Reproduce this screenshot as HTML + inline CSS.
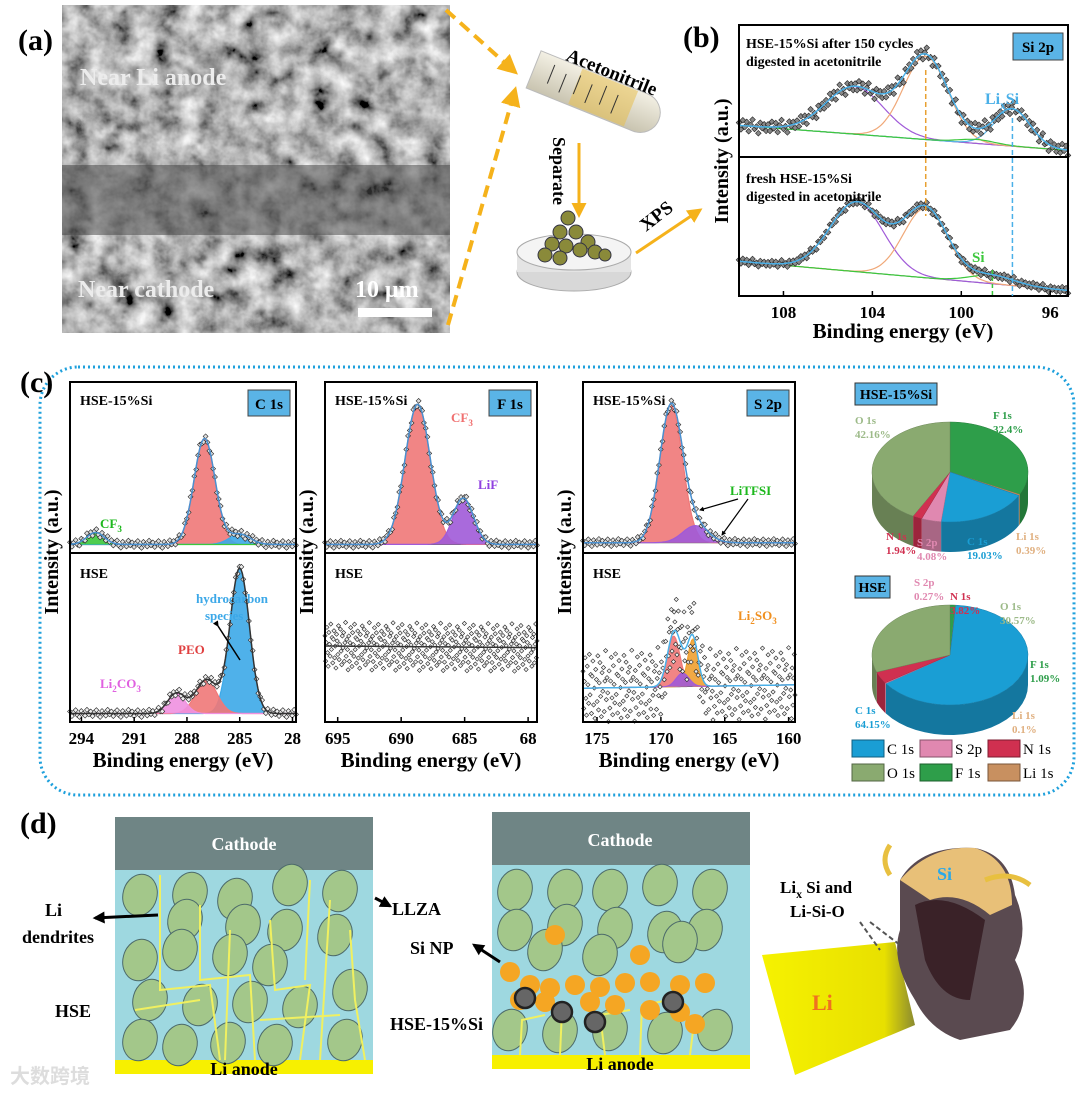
<!DOCTYPE html>
<html><head><meta charset="utf-8">
<style>
html,body{margin:0;padding:0;background:#fff;}
svg{display:block;font-family:"Liberation Serif",serif;}
.b{font-weight:bold;}
</style></head>
<body>
<svg id="fig" width="1080" height="1093" viewBox="0 0 1080 1093" xmlns="http://www.w3.org/2000/svg">
<defs>
<filter id="sem" x="0" y="0" width="100%" height="100%">
<feTurbulence type="fractalNoise" baseFrequency="0.045" numOctaves="4" seed="3"/>
<feColorMatrix type="matrix" values="0.33 0.33 0.33 0 0  0.33 0.33 0.33 0 0  0.33 0.33 0.33 0 0  0 0 0 0 1"/>
<feComponentTransfer><feFuncR type="linear" slope="2.2" intercept="-0.65"/><feFuncG type="linear" slope="2.2" intercept="-0.65"/><feFuncB type="linear" slope="2.2" intercept="-0.65"/></feComponentTransfer>
</filter>
<linearGradient id="tube" x1="0" y1="0" x2="0" y2="1"><stop offset="0" stop-color="#f3f0e4"/><stop offset="1" stop-color="#c9c4b0"/></linearGradient>
<linearGradient id="liy" x1="0" y1="0" x2="1" y2="0"><stop offset="0" stop-color="#f6f200"/><stop offset="0.8" stop-color="#e8e000"/><stop offset="1" stop-color="#8a8a30"/></linearGradient>
<marker id="ah" viewBox="0 0 10 10" refX="8" refY="5" markerWidth="5" markerHeight="5" orient="auto"><path d="M0,0 L10,5 L0,10 z" fill="#f5b21b"/></marker>
<marker id="ak" viewBox="0 0 10 10" refX="8" refY="5" markerWidth="4" markerHeight="4" orient="auto"><path d="M0,0 L10,5 L0,10 z" fill="#000"/></marker>
</defs>

<!-- panel a -->
<text x="18" y="50" font-size="30" class="b">(a)</text>
<g>
<rect x="62" y="5" width="388" height="328" fill="#5a5a5a"/>
<rect x="62" y="5" width="388" height="328" filter="url(#sem)"/>
<rect x="62" y="165" width="388" height="70" fill="#4a4a4a" opacity="0.55"/>
<text x="80" y="85" font-size="24" class="b" fill="#ececec">Near Li anode</text>
<text x="78" y="297" font-size="24" class="b" fill="#ececec">Near cathode</text>
<text x="355" y="297" font-size="24" class="b" fill="#fff">10 μm</text>
<rect x="358" y="308" width="74" height="9" fill="#fff"/>
</g>
<path d="M446,10 L515,72" stroke="#f5b21b" stroke-width="4" stroke-dasharray="12,7" fill="none" marker-end="url(#ah)"/>
<path d="M448,325 L515,90" stroke="#f5b21b" stroke-width="4" stroke-dasharray="12,7" fill="none" marker-end="url(#ah)"/>
<g transform="rotate(22 590 90)">
<path d="M530,72 L645,72 A20,20 0 0 1 645,112 L530,112 Z" fill="url(#tube)" stroke="#bbb"/>
<rect x="575" y="73" width="60" height="38" fill="#e8c050" opacity="0.55"/>
<g stroke="#333" stroke-width="1"><line x1="548" y1="80" x2="548" y2="100"/><line x1="562" y1="84" x2="562" y2="104"/><line x1="576" y1="80" x2="576" y2="100"/><line x1="590" y1="84" x2="590" y2="104"/><line x1="604" y1="80" x2="604" y2="100"/><line x1="618" y1="84" x2="618" y2="104"/></g>
</g>
<text x="565" y="60" font-size="19" class="b" transform="rotate(22 565 60)">Acetonitrile</text>
<line x1="579" y1="143" x2="579" y2="215" stroke="#f5b21b" stroke-width="3" marker-end="url(#ah)"/>
<text x="553" y="137" font-size="18" class="b" transform="rotate(90 553 137)">Separate</text>
<g>
<ellipse cx="574" cy="272" rx="57" ry="19" fill="#d8d8d8" stroke="#aaa"/>
<rect x="517" y="252" width="114" height="20" fill="#e4e4e4"/>
<ellipse cx="574" cy="252" rx="57" ry="18" fill="#f4f4f4" stroke="#aaa"/>
<g fill="#8a8a3a" stroke="#334" stroke-width="1">
<circle cx="568" cy="218" r="7"/><circle cx="560" cy="232" r="7"/><circle cx="576" cy="232" r="7"/><circle cx="588" cy="242" r="7"/><circle cx="552" cy="244" r="7"/><circle cx="566" cy="246" r="7"/><circle cx="580" cy="250" r="7"/><circle cx="595" cy="252" r="7"/><circle cx="545" cy="255" r="7"/><circle cx="560" cy="258" r="7"/><circle cx="605" cy="255" r="6"/>
</g></g>
<line x1="636" y1="253" x2="700" y2="210" stroke="#f5b21b" stroke-width="3" marker-end="url(#ah)"/>
<text x="646" y="232" font-size="19" class="b" transform="rotate(-38 646 232)">XPS</text>

<!-- panel b -->
<text x="683" y="47" font-size="30" class="b">(b)</text>
<g id="pb"></g>
<text x="903" y="338" font-size="21" class="b" text-anchor="middle">Binding energy (eV)</text>
<text x="728" y="161" font-size="20" class="b" text-anchor="middle" transform="rotate(-90 728 161)">Intensity (a.u.)</text>

<!-- panel c -->
<rect x="40" y="367" width="1034" height="428" rx="38" fill="none" stroke="#1ea0dc" stroke-width="3" stroke-dasharray="2,3"/>
<text x="20" y="392" font-size="30" class="b">(c)</text>
<g id="pc"></g>
<g id="pies"></g>

<!-- panel d -->
<text x="20" y="833" font-size="30" class="b">(d)</text>
<g id="pd"></g>
</svg>

<script>
// ===== Panel b data (Si 2p) =====
const bTicks = [108, 104, 100, 96];
const bTopPeaks = [[104.8, 0.36, 1.3, '#a05ad8'], [101.6, 0.63, 1.0, '#f0a878'], [97.7, 0.28, 0.8, '#5ab4e6'], [99.3, 0.03, 0.8, '#3cc83c']];
const bTopBase = [0.24, 0.05];
const bBotPeaks = [[104.7, 0.5, 1.2, '#a05ad8'], [101.6, 0.5, 1.0, '#f0a878'], [98.6, 0.06, 1.0, '#3cc83c']];
const bBotBase = [0.25, 0.04];
const noiseB = [0.02, -0.03, 0.04, -0.01, 0.03, -0.04, 0.01, 0.05, -0.02, 0.0, -0.05, 0.03, -0.01, 0.02, -0.03];
// ===== Panel c data =====
const cTicks = [294, 291, 288, 285, 282];
const cTickLabels = ['294', '291', '288', '285', '28'];
const cTopPeaks = [[287.0, 0.62, 0.6, '#f07878'], [285.0, 0.06, 0.6, '#3ca8e8'], [293.2, 0.07, 0.5, '#3cc83c']];
const cBotPeaks = [[285.0, 0.86, 0.55, '#3ca8e8'], [286.9, 0.2, 0.6, '#f07878'], [288.6, 0.12, 0.5, '#f090e0']];
const fTicks = [695, 690, 685, 680];
const fTickLabels = ['695', '690', '685', '68'];
const fTopPeaks = [[688.7, 0.82, 1.0, '#f07878'], [685.1, 0.27, 0.8, '#a05ad8']];
const fBotPeaks = [];
const fBotBase = [0.45, 0.44];
const sTicks = [175, 170, 165, 160];
const sTickLabels = ['175', '170', '165', '160'];
const sTopPeaks = [[169.2, 0.8, 0.9, '#f07878'], [167.3, 0.1, 1.0, '#a05ad8']];
const sBotPeaks = [[169.0, 0.3, 0.5, '#f07878'], [167.5, 0.28, 0.4, '#f0a030'], [168.3, 0.08, 0.5, '#a05ad8']];
const sBotBase = [0.2, 0.22];
const noiseC = [0.012, -0.015, 0.008, 0.02, -0.01, -0.02, 0.015, 0.0, -0.012, 0.022, -0.005];
const noiseF = [0.06, -0.09, 0.02, 0.11, -0.04, -0.12, 0.08, 0.01, -0.06, 0.13, -0.02, 0.05, -0.1, 0.04, 0.09, -0.07, 0.0, -0.13, 0.07, 0.03, -0.05, 0.12, -0.08, 0.01, 0.1, -0.03, -0.11, 0.06, -0.01, 0.08, -0.09, 0.02, 0.14, -0.06, 0.04, -0.02, -0.14];
const noiseS = [0.1, -0.12, 0.04, 0.18, -0.06, -0.16, 0.13, 0.02, -0.09, 0.2, -0.04, 0.08, -0.15, 0.07, 0.16, -0.1, 0.0, -0.18, 0.11, 0.05, -0.08, 0.19, -0.13, 0.03, 0.15, -0.05, -0.17, 0.09, -0.02, 0.12, -0.14, 0.04, 0.22, -0.07, 0.06, -0.03, -0.2];
// ===== Pie data =====
const pieLabels = ['F 1s', 'Li 1s', 'C 1s', 'S 2p', 'N 1s', 'O 1s'];
const pieSi = [32.4, 0.39, 19.03, 4.08, 1.94, 42.16];
const pieHSE = [1.09, 0.1, 64.15, 0.27, 3.82, 30.57];
const pieColors = ['#2e9e4a', '#c89060', '#1a9ed4', '#e088b0', '#d03050', '#8aaa70'];

const NS = 'http://www.w3.org/2000/svg';
function mk(parent, tag, attrs, txt) {
  const e = document.createElementNS(NS, tag);
  for (const k in attrs) e.setAttribute(k, attrs[k]);
  if (txt !== undefined) e.textContent = txt;
  parent.appendChild(e);
  return e;
}
// text with subscript parts: parts = [[str, isSub], ...]
function subText(parent, x, y, size, fill, parts) {
  const t = mk(parent, 'text', { x: x, y: y, 'font-size': size, 'font-weight': 'bold', fill: fill });
  parts.forEach(p => {
    const s = mk(t, 'tspan', p[1] ? { 'font-size': size * 0.7, dy: size * 0.3 } : { dy: p[2] || 0 }, p[0]);
  });
  return t;
}
function gauss(x, p) { return p[1] * Math.exp(-Math.pow(x - p[0], 2) / (2 * p[2] * p[2])); }

function panel(g, box, xmin, xmax, peaks, base, noise, nPts, dotColor, fitColor, ds) {
  ds = ds || 4;
  const sx = v => box.x + (xmin - v) / (xmin - xmax) * box.w;
  const sy = v => box.y + box.h - v * box.h;
  const bl = v => base[0] + (base[1] - base[0]) * (xmin - v) / (xmin - xmax);
  const N = 160;
  let d = '';
  for (let i = 0; i <= N; i++) { const v = xmin + (xmax - xmin) * i / N; d += (i ? 'L' : 'M') + sx(v).toFixed(1) + ',' + sy(bl(v)).toFixed(1); }
  const bp = mk(g, 'path', { d: d, stroke: '#666', fill: 'none', 'stroke-width': 1 });
  
  
  peaks.forEach(p => {
    let dd = '';
    for (let i = 0; i <= N; i++) { const v = xmin + (xmax - xmin) * i / N; const y = sy(bl(v) + gauss(v, p)); dd += (i ? 'L' : 'M') + sx(v).toFixed(1) + ',' + y.toFixed(1); }
    let fp = dd;
    for (let i = N; i >= 0; i--) { const v = xmin + (xmax - xmin) * i / N; fp += 'L' + sx(v).toFixed(1) + ',' + sy(bl(v)).toFixed(1); }
    if (box.fill) {
      const f = mk(g, 'path', { d: fp + 'Z', fill: p[3], opacity: 0.9 });
      
      
    }
    const pe = mk(g, 'path', { d: dd, stroke: p[3], fill: 'none', 'stroke-width': 1.2 });
    
    
  });
  const tot = v => bl(v) + peaks.reduce((s, p) => s + gauss(v, p), 0);
  for (let i = 0; i <= nPts; i++) {
    const v = xmin + (xmax - xmin) * i / nPts;
    const y = tot(v) + noise[i % noise.length];
    const c = mk(g, 'rect', { x: sx(v) - ds / 2, y: sy(y) - ds / 2, width: ds, height: ds, fill: dotColor, stroke: '#222', 'stroke-width': 0.6, transform: 'rotate(45 ' + sx(v) + ' ' + sy(y) + ')' });
    
    
  }
  let fd = '';
  for (let i = 0; i <= N; i++) { const v = xmin + (xmax - xmin) * i / N; fd += (i ? 'L' : 'M') + sx(v).toFixed(1) + ',' + sy(tot(v)).toFixed(1); }
  const fl = mk(g, 'path', { d: fd, stroke: fitColor, fill: 'none', 'stroke-width': 1.5 });
  
  
  return { sx, sy };
}

function frame(g, x, y, w, h, mid, xmin, xmax, ticks, labels, name) {
  const sx = v => x + (xmin - v) / (xmin - xmax) * w;
  const r = mk(g, 'rect', { x: x, y: y, width: w, height: h, fill: 'none', stroke: '#000', 'stroke-width': 2 });
  
  
  mk(g, 'line', { x1: x, x2: x + w, y1: mid, y2: mid, stroke: '#000', 'stroke-width': 2 });
  ticks.forEach((t, i) => {
    mk(g, 'line', { x1: sx(t), x2: sx(t), y1: y + h, y2: y + h - 5, stroke: '#000', 'stroke-width': 1.5 });
    const tl = mk(g, 'text', { x: sx(t), y: y + h + 22, 'font-size': 17, 'font-weight': 'bold', 'text-anchor': 'middle' }, labels[i]);
    
    
  });
}

// ---- panel b ----
(function () {
  const g = document.getElementById('pb');
  const X = 739, W = 329, xmin = 110, xmax = 95.2;
  const top = { x: X, y: 25, w: W, h: 132 }, bot = { x: X, y: 157, w: W, h: 139 };
  panel(g, top, xmin, xmax, bTopPeaks, bTopBase, noiseB, 170, '#888', '#4ab0e8', 4);
  const r = panel(g, bot, xmin, xmax, bBotPeaks, bBotBase, noiseB.map(v => v * 0.5), 170, '#888', '#4ab0e8', 4);
  frame(g, X, 25, W, 271, 157, xmin, xmax, bTicks, bTicks.map(String), 'b');
  mk(g, 'line', { x1: r.sx(101.6), x2: r.sx(101.6), y1: 70, y2: 216, stroke: '#e8a030', 'stroke-width': 1.5, 'stroke-dasharray': '5,3' });
  mk(g, 'line', { x1: r.sx(97.7), x2: r.sx(97.7), y1: 118, y2: 296, stroke: '#4ab0e8', 'stroke-width': 1.5, 'stroke-dasharray': '5,3' });
  mk(g, 'line', { x1: r.sx(98.6), x2: r.sx(98.6), y1: 270, y2: 296, stroke: '#3cc83c', 'stroke-width': 1.5, 'stroke-dasharray': '4,3' });
  mk(g, 'text', { x: 746, y: 48, 'font-size': 14, 'font-weight': 'bold' }, 'HSE-15%Si  after 150 cycles');
  mk(g, 'text', { x: 746, y: 66, 'font-size': 14, 'font-weight': 'bold' }, 'digested in acetonitrile');
  mk(g, 'text', { x: 746, y: 183, 'font-size': 14, 'font-weight': 'bold' }, 'fresh HSE-15%Si');
  mk(g, 'text', { x: 746, y: 201, 'font-size': 14, 'font-weight': 'bold' }, 'digested in acetonitrile');
  const lb = mk(g, 'rect', { x: 1013, y: 33, width: 50, height: 27, fill: '#5ab4e6', stroke: '#444' });
  
  
  mk(g, 'text', { x: 1038, y: 52, 'font-size': 15, 'font-weight': 'bold', 'text-anchor': 'middle' }, 'Si 2p');
  subText(g, 985, 104, 16, '#4ab0e8', [['Li'], ['x', 1], ['Si', 0, -4.8]]);
  mk(g, 'text', { x: 972, y: 262, 'font-size': 15, 'font-weight': 'bold', fill: '#3cc83c' }, 'Si');
})();

// ---- panel c ----
(function () {
  const g = document.getElementById('pc');
  const Y0 = 382, MID = 553, Y1 = 722;
  const defs = [
    { x: 70, w: 226, xmin: 294.65, xmax: 281.8, tp: cTopPeaks, bp: cBotPeaks, tb: [0.05, 0.05], bb: [0.05, 0.05], ticks: cTicks, labels: cTickLabels, badge: 'C 1s', nb: noiseC, n: 120 },
    { x: 325, w: 212, xmin: 696, xmax: 679.3, tp: fTopPeaks, bp: fBotPeaks, tb: [0.05, 0.05], bb: fBotBase, ticks: fTicks, labels: fTickLabels, badge: 'F 1s', nb: noiseF, n: 330 },
    { x: 583, w: 212, xmin: 176.1, xmax: 159.5, tp: sTopPeaks, bp: sBotPeaks, tb: [0.06, 0.06], bb: sBotBase, ticks: sTicks, labels: sTickLabels, badge: 'S 2p', nb: noiseS, n: 300 }
  ];
  defs.forEach((d, k) => {
    const top = { x: d.x, y: Y0, w: d.w, h: MID - Y0, fill: true }, bot = { x: d.x, y: MID, w: d.w, h: Y1 - MID, fill: true };
    panel(g, top, d.xmin, d.xmax, d.tp, d.tb, noiseC, 120, '#ddd', '#4a90d0', 3.5);
    panel(g, bot, d.xmin, d.xmax, d.bp, d.bb, d.nb, d.n, '#eee', k === 2 ? '#4ab0e8' : '#333', k === 0 ? 3.5 : 3);
    frame(g, d.x, Y0, d.w, Y1 - Y0, MID, d.xmin, d.xmax, d.ticks, d.labels, 'c' + k);
    mk(g, 'text', { x: d.x + 10, y: 405, 'font-size': 14, 'font-weight': 'bold' }, 'HSE-15%Si');
    mk(g, 'text', { x: d.x + 10, y: 578, 'font-size': 14, 'font-weight': 'bold' }, 'HSE');
    const bx = mk(g, 'rect', { x: d.x + d.w - 48, y: 390, width: 42, height: 26, fill: '#5ab4e6', stroke: '#444' });
    
    
    mk(g, 'text', { x: d.x + d.w - 27, y: 409, 'font-size': 15, 'font-weight': 'bold', 'text-anchor': 'middle' }, d.badge);
    mk(g, 'text', { x: d.x + d.w / 2, y: 767, 'font-size': 21, 'font-weight': 'bold', 'text-anchor': 'middle' }, 'Binding energy (eV)');
    mk(g, 'text', { x: d.x - 12, y: 552, 'font-size': 20, 'font-weight': 'bold', 'text-anchor': 'middle', transform: 'rotate(-90 ' + (d.x - 12) + ' 552)' }, 'Intensity (a.u.)');
  });
  subText(g, 100, 528, 13, '#1db81d', [['CF'], ['3', 1]]);
  mk(g, 'text', { x: 196, y: 603, 'font-size': 13, 'font-weight': 'bold', fill: '#3ca8e8' }, 'hydrocarbon');
  mk(g, 'text', { x: 205, y: 620, 'font-size': 13, 'font-weight': 'bold', fill: '#3ca8e8' }, 'species');
  mk(g, 'line', { x1: 218, y1: 626, x2: 240, y2: 660, stroke: '#000', 'stroke-width': 1.5, 'marker-start': 'url(#ak)' });
  mk(g, 'text', { x: 178, y: 654, 'font-size': 13, 'font-weight': 'bold', fill: '#e04040' }, 'PEO');
  subText(g, 100, 688, 13, '#e060e0', [['Li'], ['2', 1], ['CO', 0, -3.9], ['3', 1]]);
  subText(g, 451, 422, 13, '#f07070', [['CF'], ['3', 1]]);
  mk(g, 'text', { x: 478, y: 489, 'font-size': 13, 'font-weight': 'bold', fill: '#9040e0' }, 'LiF');
  mk(g, 'text', { x: 730, y: 495, 'font-size': 13, 'font-weight': 'bold', fill: '#1db81d' }, 'LiTFSI');
  mk(g, 'line', { x1: 738, y1: 499, x2: 700, y2: 510, stroke: '#000', 'stroke-width': 1.2, 'marker-end': 'url(#ak)' });
  mk(g, 'line', { x1: 748, y1: 499, x2: 722, y2: 535, stroke: '#000', 'stroke-width': 1.2, 'marker-end': 'url(#ak)' });
  subText(g, 738, 620, 13, '#f09020', [['Li'], ['2', 1], ['SO', 0, -3.9], ['3', 1]]);
})();

// ---- pies ----
(function () {
  const g = document.getElementById('pies');
  function shade(c, f) { const n = parseInt(c.slice(1), 16); const r = Math.round(((n >> 16) & 255) * f), gg = Math.round(((n >> 8) & 255) * f), b = Math.round((n & 255) * f); return 'rgb(' + r + ',' + gg + ',' + b + ')'; }
  function pie(cx, cy, rx, ry, dep, vals) {
    const tot = vals.reduce((a, b) => a + b, 0);
    let a = -Math.PI / 2;
    const segs = vals.map((v, i) => { const a0 = a; a += v / tot * 2 * Math.PI; return [a0, a, i]; });
    const P = (t, dy) => [cx + rx * Math.cos(t), cy + ry * Math.sin(t) + (dy || 0)];
    segs.forEach(s => {
      const ranges = [[Math.max(s[0], 0), Math.min(s[1], Math.PI)], [Math.max(s[0], 2 * Math.PI), Math.min(s[1], 3 * Math.PI)]];
      ranges.forEach(rg => {
        if (rg[1] <= rg[0]) return;
        let d = 'M' + P(rg[0]).join(',');
        for (let k = 1; k <= 20; k++) d += 'L' + P(rg[0] + (rg[1] - rg[0]) * k / 20).join(',');
        for (let k = 20; k >= 0; k--) d += 'L' + P(rg[0] + (rg[1] - rg[0]) * k / 20, dep).join(',');
        const e = mk(g, 'path', { d: d + 'Z', fill: shade(pieColors[s[2]], 0.75) });
        
        
      });
    });
    segs.forEach(s => {
      let d = 'M' + cx + ',' + cy;
      for (let k = 0; k <= 30; k++) d += 'L' + P(s[0] + (s[1] - s[0]) * k / 30).join(',');
      const e = mk(g, 'path', { d: d + 'Z', fill: pieColors[s[2]], stroke: shade(pieColors[s[2]], 0.8), 'stroke-width': 0.5 });
      
      
    });
  }
  pie(950, 472, 78, 50, 30, pieSi);
  pie(950, 655, 78, 50, 30, pieHSE);
  const tb = (x, y, w, t) => { const r = mk(g, 'rect', { x: x, y: y, width: w, height: 22, fill: '#5ab4e6', stroke: '#333' });   mk(g, 'text', { x: x + w / 2, y: y + 16, 'font-size': 14, 'font-weight': 'bold', 'text-anchor': 'middle' }, t); };
  tb(855, 383, 82, 'HSE-15%Si');
  tb(855, 576, 35, 'HSE');
  const lab = (x, y, a, b, c) => { mk(g, 'text', { x: x, y: y, 'font-size': 11, 'font-weight': 'bold', fill: c }, a); mk(g, 'text', { x: x, y: y + 14, 'font-size': 11, 'font-weight': 'bold', fill: c }, b); };
  lab(855, 424, 'O 1s', '42.16%', '#9cba88'); lab(993, 419, 'F 1s', '32.4%', '#2e9e4a');
  lab(886, 540, 'N 1s', '1.94%', '#d03050'); lab(917, 546, 'S 2p', '4.08%', '#e088b0');
  lab(967, 545, 'C 1s', '19.03%', '#1a9ed4'); lab(1016, 540, 'Li 1s', '0.39%', '#e0b080');
  lab(914, 586, 'S 2p', '0.27%', '#e088b0'); lab(950, 600, 'N 1s', '3.82%', '#d03050');
  lab(1000, 610, 'O 1s', '30.57%', '#9cba88'); lab(1030, 668, 'F 1s', '1.09%', '#2e9e4a');
  lab(855, 714, 'C 1s', '64.15%', '#1a9ed4'); lab(1012, 719, 'Li 1s', '0.1%', '#e0b080');
  const leg = [['C 1s', 0, 2], ['S 2p', 1, 3], ['N 1s', 2, 4], ['O 1s', 0, 5], ['F 1s', 1, 0], ['Li 1s', 2, 1]];
  leg.forEach((l, i) => {
    const x = 852 + l[1] * 68, y = 740 + (i < 3 ? 0 : 24);
    const r = mk(g, 'rect', { x: x, y: y, width: 32, height: 17, fill: pieColors[l[2]], stroke: shade(pieColors[l[2]], 0.6) });
    
    
    const t = mk(g, 'text', { x: x + 35, y: y + 14, 'font-size': 15 }, l[0]);
    
    
  });
})();

// ---- panel d ----
(function () {
  const g = document.getElementById('pd');
  function cell(x, w, cy, cb, ab) {
    mk(g, 'rect', { x: x, y: cy, width: w, height: cb - cy, fill: '#6f8585' });
    mk(g, 'rect', { x: x, y: cb, width: w, height: ab - cb, fill: '#9ed8e0' });
    mk(g, 'rect', { x: x, y: ab, width: w, height: 14, fill: '#f7f000' });
  }
  cell(115, 258, 817, 870, 1060);
  cell(492, 258, 812, 865, 1055);
  const el = [[140, 895], [190, 893], [235, 899], [290, 885], [340, 891], [185, 920], [243, 925], [285, 930], [335, 935], [140, 960], [180, 950], [230, 955], [270, 965], [150, 1000], [200, 1005], [250, 1002], [300, 1007], [350, 990], [140, 1040], [180, 1045], [228, 1043], [275, 1045], [345, 1040],
    [515, 890], [565, 890], [610, 890], [660, 885], [710, 890], [515, 930], [565, 925], [615, 928], [665, 932], [705, 930], [545, 950], [600, 955], [680, 942], [510, 1030], [560, 1032], [610, 1030], [665, 1033], [715, 1030]];
  el.forEach(p => { const e = mk(g, 'ellipse', { cx: p[0], cy: p[1], rx: 17, ry: 21, fill: '#a3c78a', stroke: '#4c6a6a', 'stroke-width': 1, transform: 'rotate(15 ' + p[0] + ' ' + p[1] + ')' });   });
  const dend = ['M160,875 L160,990 L210,985 L220,1060', 'M200,905 L200,980 L250,975 L255,1060', 'M230,930 L225,1060', 'M270,920 L275,990 L310,985 L300,1060', 'M310,880 L305,980', 'M330,900 L320,1060', 'M350,930 L355,1000 L365,1060', 'M135,1010 L200,1000', 'M260,1020 L340,1015'];
  dend.forEach(d => { const e = mk(g, 'path', { d: d, stroke: '#f0f060', 'stroke-width': 2, fill: 'none' });   });
  ['M520,1055 L522,1020 L545,1015', 'M560,1055 L562,1010', 'M605,1055 L600,1015 L630,1010', 'M640,1055 L642,1005 L670,1000', 'M690,1055 L695,1015'].forEach(d => mk(g, 'path', { d: d, stroke: '#f0f060', 'stroke-width': 2, fill: 'none' }));
  const np = [[555, 935], [640, 955], [510, 972], [530, 985], [550, 988], [575, 985], [600, 987], [625, 983], [650, 982], [680, 985], [705, 983], [520, 1000], [545, 1002], [590, 1002], [615, 1005], [650, 1010], [680, 1012], [695, 1024]];
  np.forEach(p => { const e = mk(g, 'circle', { cx: p[0], cy: p[1], r: 10, fill: '#f5a623' });   });
  [[525, 998], [562, 1012], [595, 1022], [673, 1002]].forEach(p => mk(g, 'circle', { cx: p[0], cy: p[1], r: 10, fill: '#666', stroke: '#222', 'stroke-width': 2.5 }));
  const T = (x, y, s, t, f, a) => mk(g, 'text', { x: x, y: y, 'font-size': s, 'font-weight': 'bold', fill: f || '#000', 'text-anchor': a || 'start' }, t);
  T(244, 850, 18, 'Cathode', '#fff', 'middle'); T(620, 846, 18, 'Cathode', '#fff', 'middle');
  T(244, 1075, 18, 'Li anode', '#000', 'middle'); T(620, 1070, 18, 'Li anode', '#000', 'middle');
  T(45, 916, 18, 'Li'); T(22, 943, 18, 'dendrites'); T(55, 1017, 18, 'HSE'); T(392, 915, 18, 'LLZA');
  T(410, 954, 18, 'Si NP'); T(390, 1030, 18, 'HSE-15%Si');
  mk(g, 'line', { x1: 158, y1: 915, x2: 95, y2: 918, stroke: '#000', 'stroke-width': 3, 'marker-end': 'url(#ak)' });
  mk(g, 'line', { x1: 500, y1: 962, x2: 474, y2: 945, stroke: '#000', 'stroke-width': 3, 'marker-end': 'url(#ak)' });
  mk(g, 'line', { x1: 375, y1: 898, x2: 390, y2: 906, stroke: '#000', 'stroke-width': 3, 'marker-end': 'url(#ak)' });
  const li = mk(g, 'path', { d: 'M762,955 L895,942 L915,1025 L795,1075 Z', fill: 'url(#liy)' });
   
  T(812, 1010, 22, 'Li', '#f07020');
  const cr = mk(g, 'path', { d: 'M900,880 Q920,845 975,848 Q1010,855 1015,895 Q1030,930 1015,960 Q1035,1000 1010,1030 L960,1040 Q930,1030 915,1000 Q890,960 900,930 Z', fill: '#5a4a50' });
   
  mk(g, 'path', { d: 'M900,880 Q930,845 975,848 Q1012,860 1012,905 L990,915 Q960,890 930,900 Z', fill: '#e8c078' });
  mk(g, 'path', { d: 'M915,905 Q945,890 985,920 L970,1000 Q940,1000 925,960 Z', fill: '#3a2228' });
  mk(g, 'path', { d: 'M985,880 Q1010,870 1030,885', stroke: '#e8c040', 'stroke-width': 5, fill: 'none' });
  mk(g, 'path', { d: 'M890,875 Q880,860 890,845', stroke: '#e8c040', 'stroke-width': 5, fill: 'none' });
  T(937, 880, 18, 'Si', '#2aa8e8');
  subText(g, 780, 893, 17, '#000', [['Li'], ['x', 1], [' Si and', 0, -5.1]]);
  T(790, 917, 17, 'Li-Si-O');
  mk(g, 'path', { d: 'M860,922 L880,950 M870,922 L900,945', stroke: '#555', 'stroke-width': 2, 'stroke-dasharray': '5,3', fill: 'none' });
  const wm = T(10, 1083, 20, '大数跨境', '#ddd');
  wm.setAttribute('font-family', '"Liberation Sans","Noto Sans CJK SC",sans-serif');
  
  
})();
</script>
</body></html>
